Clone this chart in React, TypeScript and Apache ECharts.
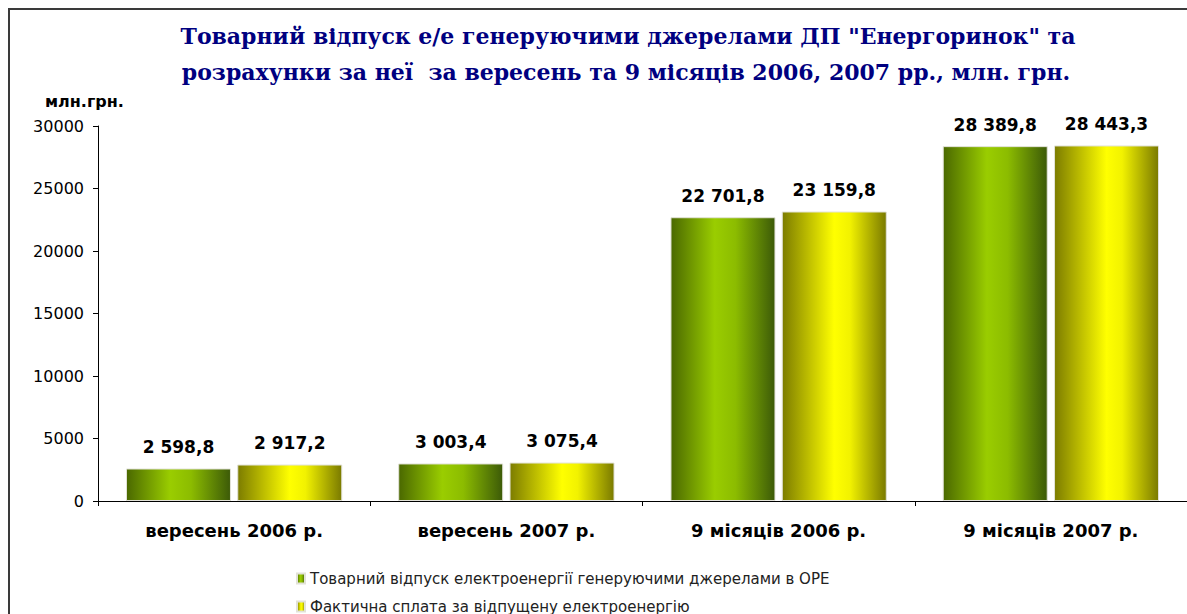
import React, { useEffect, useRef } from "react";
import * as echarts from "echarts";

const categories = ["вересень 2006 р.", "вересень 2007 р.", "9 місяців 2006 р.", "9 місяців 2007 р."];
const supplyValues = [2598.8, 3003.4, 22701.8, 28389.8];
const paymentValues = [2917.2, 3075.4, 23159.8, 28443.3];
const seriesNames = [
  "Товарний відпуск електроенергії генеруючими джерелами в ОРЕ",
  "Фактична сплата за відпущену електроенергію",
];
const titleLines = [
  'Товарний відпуск е/е генеруючими джерелами ДП "Енергоринок" та',
  "розрахунки за неї  за вересень та 9 місяців 2006, 2007 рр., млн. грн.",
];
const unitLabel = "млн.грн.";

function fmt(v: number): string {
  const [i, d] = v.toFixed(1).split(".");
  const withSpaces = i.replace(/\B(?=(\d{3})+(?!\d))/g, " ");
  return withSpaces + "," + d;
}

export default function App() {
  const ref = useRef<HTMLDivElement>(null);
  useEffect(() => {
    if (!ref.current) return;
    const chart = echarts.init(ref.current, null, { renderer: "svg" });
    const greenGrad = new echarts.graphic.LinearGradient(0, 0, 1, 0, [
      { offset: 0, color: "#4a6800" },
      { offset: 0.42, color: "#9acd00" },
      { offset: 0.62, color: "#8cbc00" },
      { offset: 1, color: "#3c5a08" },
    ]);
    const yellowGrad = new echarts.graphic.LinearGradient(0, 0, 1, 0, [
      { offset: 0, color: "#7c7c00" },
      { offset: 0.5, color: "#ffff00" },
      { offset: 0.65, color: "#f2f200" },
      { offset: 1, color: "#7a7a00" },
    ]);
    const labelCfg = {
      show: true,
      position: "top",
      distance: 13,
      formatter: (p: any) => fmt(p.value),
      fontFamily: "DejaVu Sans",
      fontWeight: "bold",
      fontSize: 17,
      color: "#000",
    };
    const legendBase = {
      left: 291,
      itemWidth: 8,
      itemHeight: 10,
      icon: "rect",
      textStyle: {
        fontFamily: "DejaVu Sans",
        fontSize: 15,
        lineHeight: 15,
        color: "#222",
      },
    };
    chart.setOption({
      animation: false,
      backgroundColor: "#fff",
      graphic: [
        {
          type: "rect",
          shape: { x: 9, y: 9, width: 1300, height: 800 },
          style: { fill: "none", stroke: "#3a3a3a", lineWidth: 2 },
        },
        {
          type: "text",
          x: 628,
          y: 36,
          style: {
            text: titleLines[0],
            textAlign: "center",
            textVerticalAlign: "middle",
            fontFamily: "DejaVu Serif",
            fontWeight: "bold",
            fontSize: 22,
            fill: "#000080",
          },
        },
        {
          type: "text",
          x: 626,
          y: 72,
          style: {
            text: titleLines[1],
            textAlign: "center",
            textVerticalAlign: "middle",
            fontFamily: "DejaVu Serif",
            fontWeight: "bold",
            fontSize: 22,
            fill: "#000080",
          },
        },
        {
          type: "text",
          x: 45,
          y: 101,
          style: {
            text: unitLabel,
            textAlign: "left",
            textVerticalAlign: "middle",
            fontFamily: "DejaVu Sans",
            fontWeight: "bold",
            fontSize: 16,
            fill: "#000",
          },
        },
      ],
      legend: [
        { ...legendBase, top: 566, data: [seriesNames[0]] },
        { ...legendBase, top: 594, data: [seriesNames[1]] },
      ],
      grid: { left: 98, top: 126, width: 1092, height: 375, containLabel: false },
      xAxis: {
        type: "category",
        data: categories,
        axisLine: { lineStyle: { color: "#000", width: 1 } },
        axisTick: { show: true, length: 5, lineStyle: { color: "#000" } },
        axisLabel: {
          margin: 20,
          fontFamily: "DejaVu Sans",
          fontWeight: "bold",
          fontSize: 18,
          color: "#000",
        },
      },
      yAxis: {
        type: "value",
        min: 0,
        max: 30000,
        interval: 5000,
        axisLine: { show: true, lineStyle: { color: "#000", width: 1 } },
        axisTick: { show: true, length: 5, lineStyle: { color: "#000" } },
        splitLine: { show: false },
        axisLabel: {
          margin: 14,
          formatter: (v: number) => String(v),
          fontFamily: "DejaVu Sans",
          fontSize: 16,
          color: "#000",
        },
      },
      series: [
        {
          name: seriesNames[0],
          type: "bar",
          data: supplyValues,
          barWidth: 105,
          barGap: "6%",
          itemStyle: { color: greenGrad, borderColor: "#e2e2d8", borderWidth: 1 },
          label: labelCfg,
        },
        {
          name: seriesNames[1],
          type: "bar",
          data: paymentValues,
          barWidth: 105,
          barGap: "6%",
          itemStyle: { color: yellowGrad, borderColor: "#e2e2d8", borderWidth: 1 },
          label: labelCfg,
        },
      ],
    });
    return () => chart.dispose();
  }, []);
  return (
    <div
      ref={ref}
      style={{ position: "absolute", left: 0, top: 0, width: 1187, height: 614 }}
    />
  );
}
